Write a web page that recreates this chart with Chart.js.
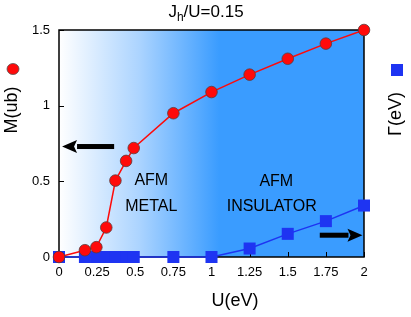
<!DOCTYPE html>
<html>
<head>
    <meta charset="UTF-8">
    <title>Jh/U=0.15</title>
    <script src="https://cdn.jsdelivr.net/npm/chart.js"></script>
    <style>
        html, body {
            margin: 0;
            padding: 0;
            background: #fff;
        }
        #wrap {
            width: 411px;
            height: 317px;
            position: relative;
        }
    </style>
</head>
<body>
<div id="wrap">
    <canvas id="chart" width="411" height="317"></canvas>
</div>
<script>
    // data
    const uValues = [0, 0.17, 0.245, 0.31, 0.37, 0.44, 0.49, 0.75, 1.0, 1.25, 1.5, 1.75, 2.0];
    const magnetization = [0, 0.045, 0.065, 0.195, 0.505, 0.635, 0.72, 0.95, 1.09, 1.205, 1.31, 1.41, 1.5];
    const gapValues = [0, 0, 0, 0, 0, 0, 0, 0, 0, 0.056, 0.153, 0.237, 0.34];
    const xTicks = [0, 0.25, 0.5, 0.75, 1, 1.25, 1.5, 1.75, 2];
    const yTicks = [0, 0.5, 1, 1.5];

    const FONT = '"Liberation Sans", Arial, Helvetica, sans-serif';
    const RED = '#ff0a0a';
    const BLUE = '#1e34f2';
    const FILL = '#3a9cff';

    const toPoints = (xs, ys) => xs.map((x, i) => ({ x: x, y: ys[i] }));

    // background gradient behind the plot
    const backgroundPlugin = {
        id: 'bgGradient',
        beforeDraw(chart) {
            const { ctx, chartArea: a, scales } = chart;
            const x0 = scales.x.getPixelForValue(0);
            const x1 = scales.x.getPixelForValue(1.05);
            const g = ctx.createLinearGradient(x0, 0, x1, 0);
            g.addColorStop(0, '#ffffff');
            g.addColorStop(0.5, '#acd4ff');
            g.addColorStop(1, FILL);
            ctx.save();
            ctx.fillStyle = g;
            ctx.fillRect(a.left, a.top, a.right - a.left, a.bottom - a.top);
            ctx.restore();
        }
    };

    function arrow(ctx, xFrom, xTo, y) {
        const dir = Math.sign(xTo - xFrom);
        const headLen = 15;
        ctx.save();
        ctx.fillStyle = '#000';
        ctx.fillRect(Math.min(xFrom, xTo - dir * headLen), y - 2.5, Math.abs(xTo - xFrom) - headLen + 1, 5);
        ctx.beginPath();
        ctx.moveTo(xTo, y);
        ctx.lineTo(xTo - dir * headLen, y - 6.5);
        ctx.lineTo(xTo - dir * (headLen - 3), y);
        ctx.lineTo(xTo - dir * headLen, y + 6.5);
        ctx.closePath();
        ctx.fill();
        ctx.restore();
    }

    // frame, inward ticks, annotations, axis titles
    const decorPlugin = {
        id: 'decor',
        beforeDatasetsDraw(chart) {
            const { ctx, chartArea: a, scales } = chart;
            const x = scales.x, y = scales.y;
            ctx.save();
            ctx.strokeStyle = '#000';
            ctx.lineWidth = 1;
            xTicks.forEach(v => {
                const px = Math.round(x.getPixelForValue(v)) + 0.5;
                ctx.beginPath();
                ctx.moveTo(px, a.bottom);
                ctx.lineTo(px, a.bottom - 5);
                ctx.stroke();
            });
            yTicks.forEach(v => {
                const py = Math.round(y.getPixelForValue(v)) + 0.5;
                ctx.beginPath();
                ctx.moveTo(a.left, py);
                ctx.lineTo(a.left + 5, py);
                ctx.stroke();
            });
            ctx.lineWidth = 1.5;
            ctx.strokeRect(a.left, a.top, a.right - a.left, a.bottom - a.top);

            // region labels
            ctx.fillStyle = '#000';
            ctx.font = '16px ' + FONT;
            ctx.textAlign = 'center';
            ctx.textBaseline = 'middle';
            ctx.fillText('AFM', x.getPixelForValue(0.605), y.getPixelForValue(0.505));
            ctx.fillText('METAL', x.getPixelForValue(0.605), y.getPixelForValue(0.33));
            ctx.fillText('AFM', x.getPixelForValue(1.425), y.getPixelForValue(0.5));
            ctx.fillText('INSULATOR', x.getPixelForValue(1.395), y.getPixelForValue(0.33));

            arrow(ctx, x.getPixelForValue(0.355), x.getPixelForValue(0.02), y.getPixelForValue(0.73));
            arrow(ctx, x.getPixelForValue(1.71), x.getPixelForValue(1.99), y.getPixelForValue(0.144));
            ctx.restore();
        },
        afterDraw(chart) {
            const { ctx } = chart;
            ctx.save();
            ctx.fillStyle = '#000';
            ctx.textBaseline = 'middle';

            // title with subscript
            ctx.font = '17px ' + FONT;
            const w1 = ctx.measureText('J').width;
            const w3 = ctx.measureText('/U=0.15').width;
            ctx.font = '12px ' + FONT;
            const w2 = ctx.measureText('h').width;
            let tx = 206 - (w1 + w2 + w3) / 2;
            ctx.textAlign = 'left';
            ctx.font = '17px ' + FONT;
            ctx.fillText('J', tx, 12);
            ctx.font = '12px ' + FONT;
            ctx.fillText('h', tx + w1, 18);
            ctx.font = '17px ' + FONT;
            ctx.fillText('/U=0.15', tx + w1 + w2, 12);

            // x title
            ctx.textAlign = 'center';
            ctx.font = '18px ' + FONT;
            ctx.fillText('U(eV)', 235, 301);

            // left title
            ctx.save();
            ctx.translate(12, 110);
            ctx.rotate(-Math.PI / 2);
            ctx.fillText('M(ub)', 0, 0);
            ctx.restore();

            // right title
            ctx.save();
            ctx.translate(396, 114);
            ctx.rotate(-Math.PI / 2);
            ctx.fillText('\u0393(eV)', 0, 0);
            ctx.restore();

            // legend markers
            ctx.fillStyle = RED;
            ctx.strokeStyle = '#555';
            ctx.lineWidth = 0.8;
            ctx.beginPath();
            ctx.ellipse(13, 69, 6, 5.5, 0, 0, Math.PI * 2);
            ctx.fill();
            ctx.stroke();
            ctx.fillStyle = BLUE;
            ctx.fillRect(391, 64, 12, 12);
            ctx.restore();
        }
    };

    new Chart(document.getElementById('chart'), {
        type: 'scatter',
        data: {
            datasets: [
                {
                    label: 'M',
                    data: toPoints(uValues, magnetization),
                    showLine: true,
                    borderColor: RED,
                    borderWidth: 1.5,
                    pointStyle: 'circle',
                    pointRadius: 5.8,
                    pointBackgroundColor: RED,
                    pointBorderColor: '#5a3a3a',
                    pointBorderWidth: 0.8,
                    yAxisID: 'y',
                    clip: false
                },
                {
                    label: 'Gamma',
                    data: toPoints(uValues, gapValues),
                    showLine: true,
                    borderColor: BLUE,
                    borderWidth: 1.5,
                    pointStyle: 'rect',
                    pointRadius: 8.5,
                    pointBackgroundColor: BLUE,
                    pointBorderColor: BLUE,
                    pointBorderWidth: 0,
                    yAxisID: 'y2',
                    clip: false
                }
            ]
        },
        options: {
            responsive: false,
            animation: false,
            events: [],
            layout: { padding: { left: 0, right: 47, top: 30, bottom: 0 } },
            plugins: {
                legend: { display: false },
                tooltip: { enabled: false }
            },
            scales: {
                x: {
                    type: 'linear',
                    min: 0,
                    max: 2,
                    afterFit: s => { s.height = 60; },
                    afterBuildTicks: s => { s.ticks = xTicks.map(v => ({ value: v })); },
                    grid: { display: false, drawTicks: false },
                    border: { display: false },
                    ticks: {
                        padding: 8,
                        color: '#000',
                        font: { family: FONT, size: 13 },
                        maxRotation: 0,
                        autoSkip: false,
                        callback: v => String(v)
                    }
                },
                y: {
                    type: 'linear',
                    position: 'left',
                    min: 0,
                    max: 1.5,
                    afterFit: s => { s.width = 59; },
                    afterBuildTicks: s => { s.ticks = yTicks.map(v => ({ value: v })); },
                    grid: { display: false, drawTicks: false },
                    border: { display: false },
                    ticks: {
                        padding: 9,
                        color: '#000',
                        font: { family: FONT, size: 13 },
                        callback: v => String(v)
                    }
                },
                y2: {
                    type: 'linear',
                    position: 'right',
                    display: false,
                    min: 0,
                    max: 1.5
                }
            }
        },
        plugins: [backgroundPlugin, decorPlugin]
    });
</script>
</body>
</html>
